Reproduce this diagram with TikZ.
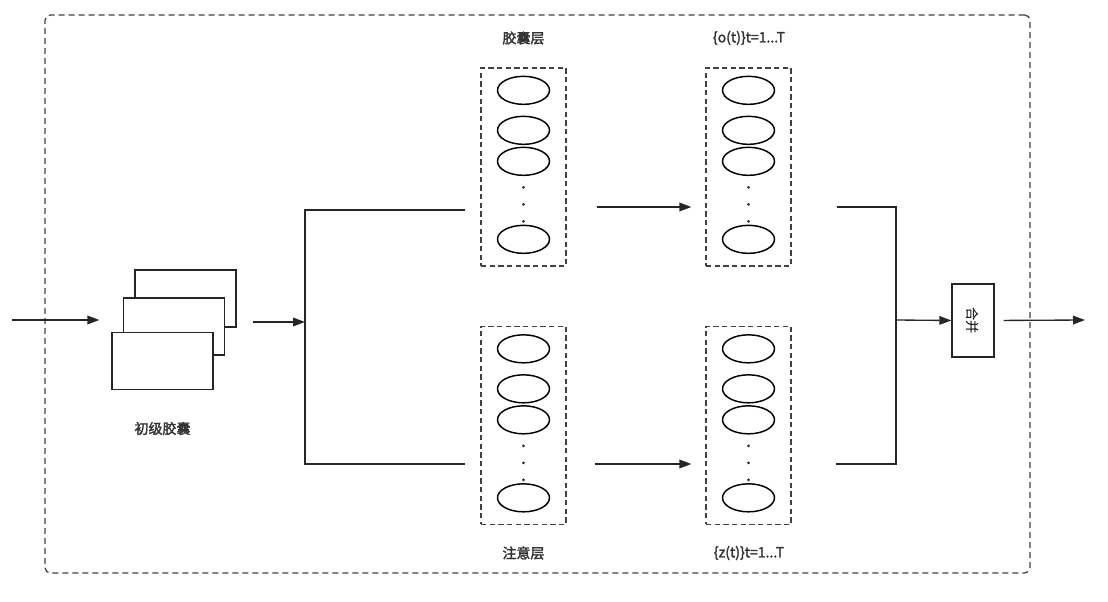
\documentclass[tikz,border=0pt]{standalone}
\usepackage{fontspec}
\setmainfont{Noto Sans CJK SC}[AutoFakeBold=2]
\usetikzlibrary{arrows.meta,positioning,calc,shapes.geometric}

\begin{document}
\begin{tikzpicture}[
  x=0.75pt, y=-0.75pt,
  frame/.style={draw=black!75, dashed, dash pattern=on 4.5pt off 3pt, line width=0.95pt, rounded corners=4pt, minimum width=738.75pt, minimum height=418.5pt, inner sep=0pt},
  sheet/.style={draw=black!85, fill=white, line width=1pt, minimum width=75.75pt, minimum height=42.75pt, inner sep=0pt},
  layer/.style={draw=black!75, dashed, dash pattern=on 4pt off 2.5pt, line width=1pt, minimum width=63.75pt, minimum height=148.5pt, inner sep=0pt},
  unit/.style={draw=black, ellipse, line width=1.1pt, minimum width=39pt, minimum height=21pt, inner sep=0pt},
  merge/.style={draw=black!85, line width=1pt, minimum width=31.5pt, minimum height=54.75pt, inner sep=0pt, font=\fontsize{10}{12}\selectfont},
  lbl/.style={font=\fontsize{10.5}{12}\selectfont\bfseries, text=black!80},
  act/.style={-{Triangle[length=9pt,width=6.5pt]}, line width=1pt, draw=black!85},
  wire/.style={line width=1pt, draw=black!85}]
  \useasboundingbox (0,0) rectangle (1108,602);
  % outer frame
  \node[frame] (frame) at (537.5,294) {};
  % primary capsules
  \node[sheet] (back) at (185.5,298.5) {};
  \node[sheet] (mid) at (174,326.5) {};
  \node[sheet] (front) at (162.5,361) {};
  \node[lbl] (primL) at (162.5,428.5) {初级胶囊};
  % layers
  \node[layer] (caps) at (523.5,167) {};
  \node[layer] (outo) at (748.5,167) {};
  \node[layer] (attn) at (523.5,425.5) {};
  \node[layer] (outz) at (748.5,425.5) {};
  \foreach \c in {caps,outo,attn,outz}{
    \foreach \k/\dy in {1/23,2/63,3/94,4/172}
      \node[unit] (\c-\k) at ($(\c.north)+(0,\dy)$) {};
    \foreach \dy in {120,137,154}
      \fill[black!85] ($(\c.north)+(0,\dy)$) circle (1.1pt);
  }
  \node[lbl] (capsL) at (523.5,38) {胶囊层};
  \node[lbl] (outoL) at (749,38) {\{o(t)\}t=1...T};
  \node[lbl] (attnL) at (523.5,553) {注意层};
  \node[lbl] (outzL) at (749,553) {\{z(t)\}t=1...T};
  % merge
  \node[merge] (merge) at (973,320.5) {\rotatebox{-90}{合并}};
  % connectors
  \coordinate (in) at (12,320);
  \coordinate (split) at (305,322);
  \coordinate (stop) at (305,210);
  \coordinate (sbot) at (305,464);
  \coordinate (ytop) at (0,207);
  \coordinate (ybot) at (0,464);
  \coordinate (join) at (896,320);
  \coordinate (out) at (1085,320);
  \draw[act, shorten >=9pt] (in) -- (front.west |- in);
  \draw[act, shorten <=12pt] (back.east |- split) -- (split);
  \draw[wire, shorten <=11.25pt, shorten >=11.25pt] (caps.west |- stop) -- (stop) -- (sbot) -- (attn.west |- sbot);
  \draw[act, shorten <=22.5pt, shorten >=10.5pt] (caps.east |- ytop) -- (outo.west |- ytop);
  \draw[act, shorten <=21pt, shorten >=10.5pt] (attn.east |- ybot) -- (outz.west |- ybot);
  \draw[wire, shorten <=33.75pt, shorten >=33pt] (outo.east |- ytop) -- (join |- ytop) -- (join |- ybot) -- (outz.east |- ybot);
  \draw[act] (join) -- (merge.west);
  \draw[act, shorten <=6.75pt] (merge.east) -- (out);
\end{tikzpicture}
\end{document}
